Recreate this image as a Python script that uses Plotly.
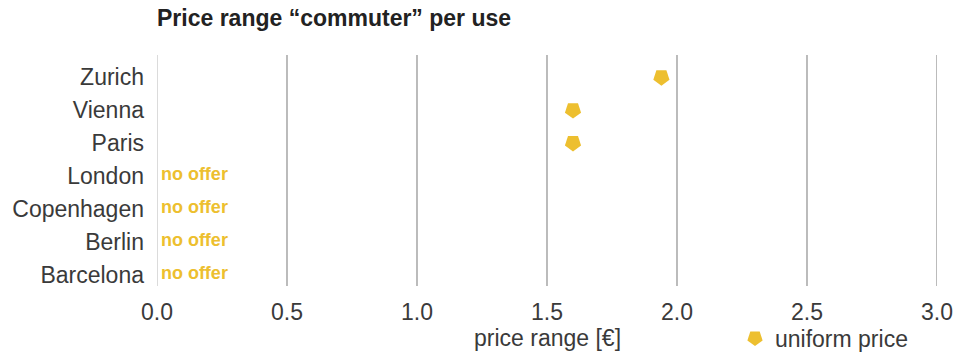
import plotly.graph_objects as go

cities = ["Zurich", "Vienna", "Paris", "London", "Copenhagen", "Berlin", "Barcelona"]
uniform_price = [1.94, 1.6, 1.6, None, None, None, None]
x_ticks = [0.0, 0.5, 1.0, 1.5, 2.0, 2.5, 3.0]
x_tick_labels = ["0.0", "0.5", "1.0", "1.5", "2.0", "2.5", "3.0"]

YELLOW = "#EDBF2F"
TEXT = "#3a3a3a"
FONT = "Liberation Sans"

no_offer = [c for c, v in zip(cities, uniform_price) if v is None]

fig = go.Figure()

fig.add_trace(go.Scatter(
    x=[v for v in uniform_price if v is not None],
    y=[c for c, v in zip(cities, uniform_price) if v is not None],
    mode="markers",
    name="uniform price",
    marker=dict(symbol="pentagon", angle=180, size=17, color=YELLOW, line=dict(width=0)),
    hoverinfo="x+y",
))

fig.add_trace(go.Scatter(
    x=[0.015] * len(no_offer),
    y=no_offer,
    mode="text",
    text=["no offer"] * len(no_offer),
    textposition="middle right",
    textfont=dict(family=FONT, size=18, color=YELLOW, weight="bold"),
    showlegend=False,
    hoverinfo="skip",
))

# vertical reference lines, the zero line lighter than the rest
for t in x_ticks:
    fig.add_shape(type="line", xref="x", yref="paper", x0=t, x1=t, y0=0, y1=1,
                  line=dict(color="#d2d2d2" if t == 0 else "#ababab", width=1.6),
                  layer="below")

PLOT_TOP, PLOT_BOTTOM = 55, 286
plot_h = PLOT_BOTTOM - PLOT_TOP

# x-axis title, placed below the tick labels
fig.add_annotation(text="price range [€]", xref="paper", yref="paper",
                   x=0.5, y=-(338 - PLOT_BOTTOM) / plot_h, xanchor="center", yanchor="middle",
                   showarrow=False, font=dict(family=FONT, size=23, color=TEXT))

fig.update_layout(
    width=960, height=354,
    margin=dict(l=157, r=23, t=PLOT_TOP, b=354 - PLOT_BOTTOM, autoexpand=False),
    paper_bgcolor="white", plot_bgcolor="white",
    font=dict(family=FONT, color=TEXT, size=23),
    title=dict(text="Price range “commuter” per use", x=157 / 960, xanchor="left",
               y=1 - 18 / 354, yanchor="middle",
               font=dict(family=FONT, size=23, color="#222222", weight="bold")),
    xaxis=dict(range=[0, 3], tickvals=x_ticks, ticktext=x_tick_labels,
               showgrid=False, zeroline=False, showline=False, ticks="",
               automargin=False, ticklabelstandoff=10,
               tickfont=dict(size=23, color=TEXT)),
    yaxis=dict(categoryorder="array", categoryarray=cities, autorange="reversed",
               showgrid=False, zeroline=False, showline=False, ticks="",
               automargin=False, ticklabelstandoff=12,
               tickfont=dict(size=23, color=TEXT)),
    legend=dict(orientation="h", xref="container", yref="container",
                x=735 / 960, xanchor="left", y=16 / 354, yanchor="middle",
                font=dict(size=23, color=TEXT), bgcolor="rgba(0,0,0,0)",
                itemwidth=30),
    showlegend=True,
)

fig.write_html("out.html")
